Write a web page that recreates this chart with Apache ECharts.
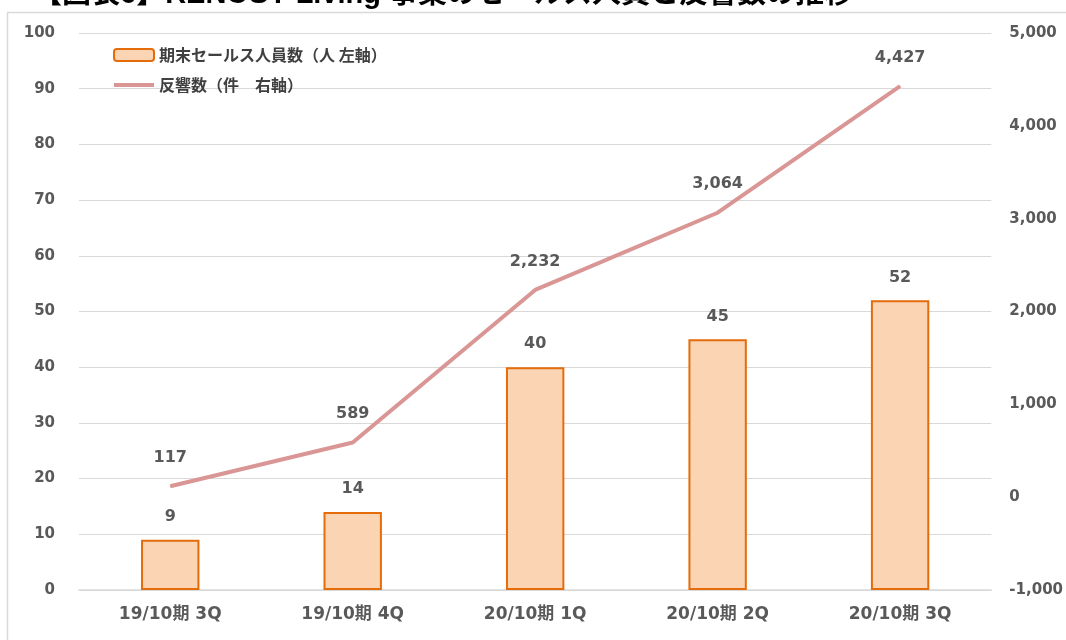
<!DOCTYPE html>
<html>
<head>
<meta charset="utf-8">
<script src="https://cdn.jsdelivr.net/npm/echarts@6/dist/echarts.min.js"></script>
<style>
  html, body { margin: 0; padding: 0; background: #fff; }
  #chart { width: 1066px; height: 640px; }
</style>
</head>
<body>
<div id="chart"></div>
<script>
const categories = ['19/10期 3Q', '19/10期 4Q', '20/10期 1Q', '20/10期 2Q', '20/10期 3Q'];
const salesStaff = [9, 14, 40, 45, 52];
const responses = [117, 589, 2232, 3064, 4427];

const JP = "'DejaVu Sans', 'Noto Sans CJK JP', sans-serif";
const fmt = v => Number(v).toLocaleString('en-US');

const getOptions = () => {
  return {
    animation: false,
    title: {
      text: '【図表6】RENOSY Living 事業のセールス人員と反響数の推移',
      left: 28,
      top: -25,
      textStyle: { fontFamily: "'Liberation Sans', 'Noto Sans CJK JP', sans-serif", fontSize: 29, fontWeight: 'bold', color: '#000' }
    },
    graphic: [
      {
        type: 'rect',
        shape: { x: 7.5, y: 12.5, width: 1100, height: 700 },
        style: { fill: 'none', stroke: '#d9d9d9', lineWidth: 1.5 },
        z: -1
      }
    ],
    legend: {
      orient: 'vertical',
      left: 108,
      top: 42,
      itemWidth: 40,
      itemHeight: 12,
      itemGap: 14,
      symbolKeepAspect: true,
      textStyle: { fontFamily: "'Noto Sans CJK JP', sans-serif", fontSize: 16, color: '#404040', fontWeight: 'bold' },
      data: [
        { name: '期末セールス人員数（人 左軸）' },
        { name: '反響数（件　右軸）', icon: 'path://M0,0 L40,0 L40,4 L0,4 Z' }
      ]
    },
    grid: { left: 79, right: 71, top: 33, bottom: 50 },
    xAxis: {
      type: 'category',
      data: categories,
      axisTick: { show: false },
      axisLine: { lineStyle: { color: '#d9d9d9', width: 1.5 } },
      axisLabel: { margin: 16, fontFamily: JP, fontSize: 17, fontWeight: 'bold', color: '#595959' }
    },
    yAxis: [
      {
        type: 'value',
        min: 0,
        max: 100,
        interval: 10,
        axisLine: { show: false },
        axisTick: { show: false },
        splitLine: { lineStyle: { color: '#d9d9d9', width: 1.2 } },
        axisLabel: { margin: 24, fontFamily: JP, fontSize: 15, fontWeight: 'bold', color: '#595959' }
      },
      {
        type: 'value',
        min: -1000,
        max: 5000,
        interval: 1000,
        axisLine: { show: false },
        axisTick: { show: false },
        splitLine: { show: false },
        axisLabel: { margin: 18, fontFamily: JP, fontSize: 15, fontWeight: 'bold', color: '#595959', formatter: fmt }
      }
    ],
    series: [
      {
        name: '期末セールス人員数（人 左軸）',
        type: 'bar',
        yAxisIndex: 0,
        barWidth: '32%',
        data: salesStaff,
        itemStyle: { color: '#FBD4B4', borderColor: '#E46C0A', borderWidth: 2 },
        label: {
          show: true,
          position: 'top',
          distance: 15,
          fontFamily: JP,
          fontSize: 16,
          fontWeight: 'bold',
          color: '#595959'
        }
      },
      {
        name: '反響数（件　右軸）',
        type: 'line',
        yAxisIndex: 1,
        data: responses,
        symbol: 'circle',
        symbolSize: 1,
        lineStyle: { color: '#D99694', width: 4 },
        itemStyle: { color: '#D99694' },
        label: {
          show: true,
          position: 'top',
          distance: 20,
          fontFamily: JP,
          fontSize: 16,
          fontWeight: 'bold',
          color: '#595959',
          formatter: p => fmt(p.value)
        }
      }
    ]
  };
};

window.addEventListener('load', () => {
  const chart = echarts.init(document.getElementById('chart'));
  chart.setOption(getOptions());
});
</script>
</body>
</html>
